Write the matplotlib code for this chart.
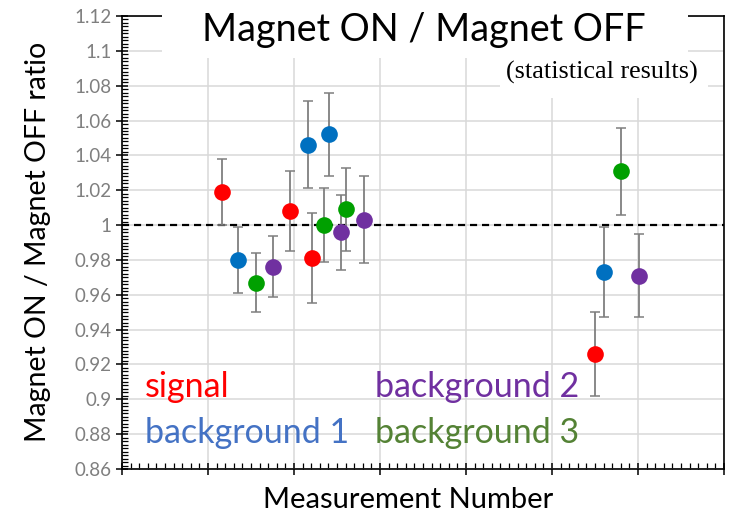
import matplotlib
matplotlib.use("Agg")
import matplotlib.pyplot as plt
from matplotlib.patches import Rectangle
from matplotlib.ticker import MultipleLocator, NullFormatter

plt.rcParams['font.family'] = ['Lato', 'DejaVu Sans']

# measurement positions and ON/OFF ratios for each sample group
signal_x = [11.6, 19.5, 22.1, 55.0]
signal_y = [1.019, 1.008, 0.981, 0.926]
signal_err = [0.019, 0.023, 0.026, 0.024]

bg1_x = [13.5, 21.6, 24.1, 56.1]
bg1_y = [0.980, 1.046, 1.052, 0.973]
bg1_err = [0.019, 0.025, 0.024, 0.026]

bg3_x = [15.6, 23.5, 26.0, 58.0]
bg3_y = [0.967, 1.000, 1.009, 1.031]
bg3_err = [0.017, 0.021, 0.024, 0.025]

bg2_x = [17.5, 25.5, 28.1, 60.1]
bg2_y = [0.976, 0.996, 1.003, 0.971]
bg2_err = [0.0175, 0.0215, 0.025, 0.024]

groups = [
    (signal_x, signal_y, signal_err, '#ff0000'),
    (bg1_x, bg1_y, bg1_err, '#0070c0'),
    (bg3_x, bg3_y, bg3_err, '#00a000'),
    (bg2_x, bg2_y, bg2_err, '#7030a0'),
]

y_ticks = [0.86, 0.88, 0.90, 0.92, 0.94, 0.96, 0.98, 1.00,
           1.02, 1.04, 1.06, 1.08, 1.10, 1.12]
y_labels = ['0.86', '0.88', '0.9', '0.92', '0.94', '0.96', '0.98', '1',
            '1.02', '1.04', '1.06', '1.08', '1.1', '1.12']

W, H = 743, 517
fig = plt.figure(figsize=(W / 100, H / 100), dpi=100)
ax = fig.add_axes([122 / W, 48 / H, 602 / W, 453 / H])

ax.set_xlim(0, 70)
ax.set_ylim(0.86, 1.12)

ax.xaxis.set_major_locator(MultipleLocator(10))
ax.xaxis.set_minor_locator(MultipleLocator(1))
ax.xaxis.set_major_formatter(NullFormatter())
ax.set_yticks(y_ticks)
ax.set_yticklabels(y_labels)
ax.yaxis.set_minor_locator(MultipleLocator(0.002))

ax.tick_params(axis='both', which='major', direction='inout', length=9, width=1.1,
               colors='black', labelcolor='#7f7f7f', labelsize=13.5)
ax.tick_params(axis='both', which='minor', direction='in', length=4, width=0.9)
ax.tick_params(axis='y', pad=3)

ax.grid(True, which='major', color='#d9d9d9', linewidth=1.1, zorder=0)
ax.set_axisbelow(True)

for side in ['left', 'bottom', 'top', 'right']:
    ax.spines[side].set_linewidth(1.2)
    ax.spines[side].set_color('black')

ax.axhline(1.0, color='black', linestyle=(0, (3.2, 2.2)), linewidth=1.6, zorder=1)

for xs, ys, es, c in groups:
    ax.errorbar(xs, ys, yerr=es, fmt='none', ecolor='#7f7f7f', elinewidth=1.3,
                capsize=3.5, capthick=1.1, zorder=2)
    ax.plot(xs, ys, 'o', color=c, markersize=12, markeredgewidth=0, zorder=3)

ax.set_xlabel('Measurement Number', fontsize=21, va='center')
ax.xaxis.set_label_coords((408 - 122) / 602, (469 - 500) / 453)
ax.set_ylabel('Magnet ON / Magnet OFF ratio', fontsize=20.5, va='center')
ax.yaxis.set_label_coords((38 - 122) / 602, (469 - 242) / 453)

# legend written as coloured words inside the plot area
legend_words = [
    ('signal', '#ff0000', 145, 387),
    ('background 1', '#4472c4', 145, 433),
    ('background 2', '#7030a0', 375, 387),
    ('background 3', '#548235', 375, 433),
]
for word, c, px, py in legend_words:
    fig.text(px / W, 1 - py / H, word, color=c, fontsize=24.5,
             ha='left', va='center', zorder=4)

# white panels behind the title and the subtitle
fig.patches.append(Rectangle((162 / W, 1 - 58 / H), 526 / W, 58 / H,
                             transform=fig.transFigure, facecolor='white',
                             edgecolor='none', zorder=1))
fig.patches.append(Rectangle((500 / W, 1 - 98 / H), 208 / W, 40 / H,
                             transform=fig.transFigure, facecolor='white',
                             edgecolor='none', zorder=1))

fig.text(424 / W, 1 - 30 / H, 'Magnet ON / Magnet OFF', fontsize=27.2,
         ha='center', va='center', zorder=4)
fig.text(602 / W, 1 - 72 / H, '(statistical results)', fontsize=18.8,
         family=['Liberation Serif', 'DejaVu Serif'], ha='center', va='center',
         zorder=4)

fig.savefig('out.png', dpi=100)
